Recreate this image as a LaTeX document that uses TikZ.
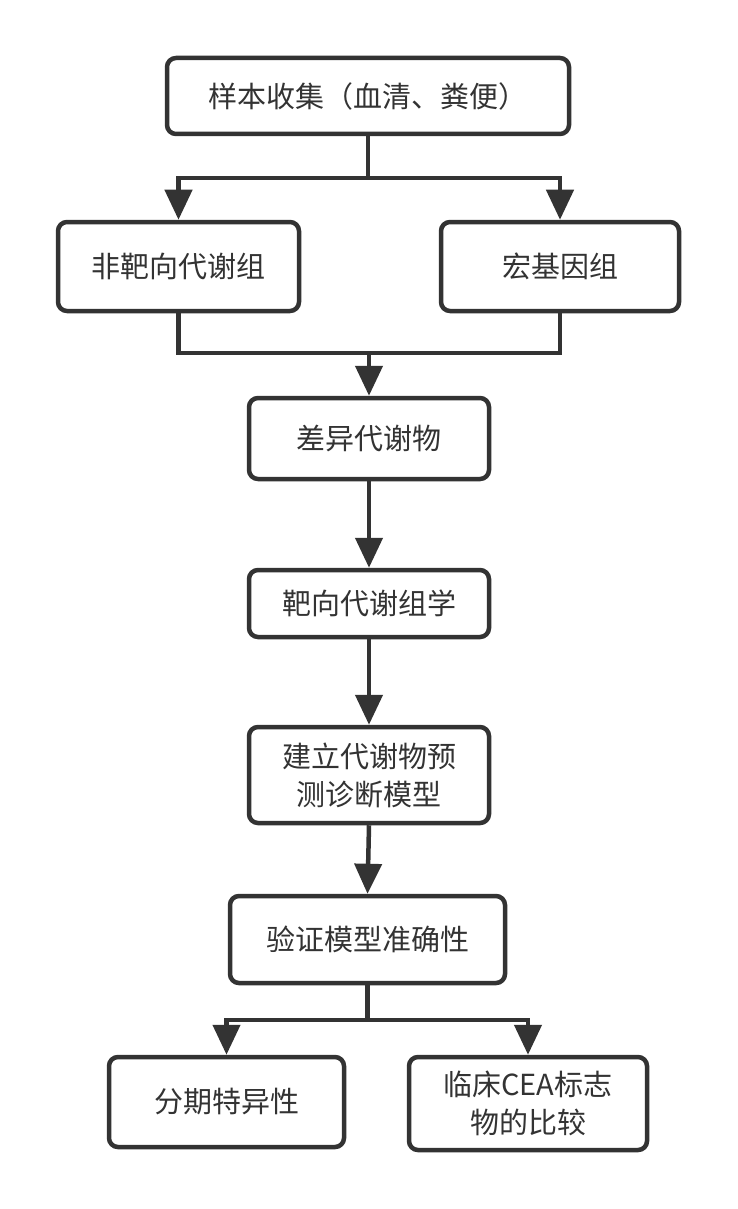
\documentclass[tikz,border=0pt]{standalone}
\usepackage{fontspec}
\setmainfont{Noto Sans CJK SC}
\usetikzlibrary{arrows.meta}
\definecolor{ink}{HTML}{333333}
\begin{document}
\begin{tikzpicture}[x=1pt,y=-1pt,
  box/.style={draw=ink, line width=4.5pt, rounded corners=9pt, fill=white,
    align=center, inner sep=0pt, text=ink,
    font=\fontsize{29}{38}\selectfont},
  conn/.style={draw=ink, line width=4.5pt},
  arr/.style={conn, -{Triangle[length=30pt,width=27pt]}}]
\useasboundingbox (0,0) rectangle (737,1209);
\fill[white] (0,0) rectangle (737,1209);
\node[box, minimum width=402pt, minimum height=76pt] (b1) at (368,96) {样本收集（血清、粪便）};
\node[box, minimum width=241pt, minimum height=89pt] (b2) at (178.5,266.5) {非靶向代谢组};
\node[box, minimum width=238pt, minimum height=89pt] (b3) at (560,266.5) {宏基因组};
\node[box, minimum width=240pt, minimum height=81pt] (b4) at (369,438.5) {差异代谢物};
\node[box, minimum width=240pt, minimum height=67pt] (b5) at (369,603.5) {靶向代谢组学};
\node[box, minimum width=240pt, minimum height=96pt] (b6) at (369,775) {建立代谢物预\\测诊断模型};
\node[box, minimum width=275pt, minimum height=87pt] (b7) at (367.5,939.5) {验证模型准确性};
\node[box, minimum width=235pt, minimum height=90pt] (b8) at (226.5,1102) {分期特异性};
\node[box, minimum width=238pt, minimum height=93pt] (b9) at (528,1103.5) {临床CEA标志\\物的比较};
% split 1
\coordinate (s1) at (368,178);
\draw[conn] (b1.south) -- (s1);
\draw[arr] (s1) -| (b2.north);
\draw[arr] (s1) -| (b3.north);
% merge
\coordinate (m1) at (369,353);
\draw[conn] (b2.south) |- (m1);
\draw[conn] (b3.south) |- (m1);
\draw[arr] (m1) -- (b4.north);
% chain
\draw[arr] (b4.south) -- (b5.north);
\draw[arr] (b5.south) -- (b6.north);
\draw[arr] (b6.south) -- (b7.north);
% split 2
\coordinate (s2) at (367.5,1020);
\draw[conn] (b7.south) -- (s2);
\draw[arr] (s2) -| (b8.north);
\draw[arr] (s2) -| (b9.north);
\end{tikzpicture}
\end{document}
